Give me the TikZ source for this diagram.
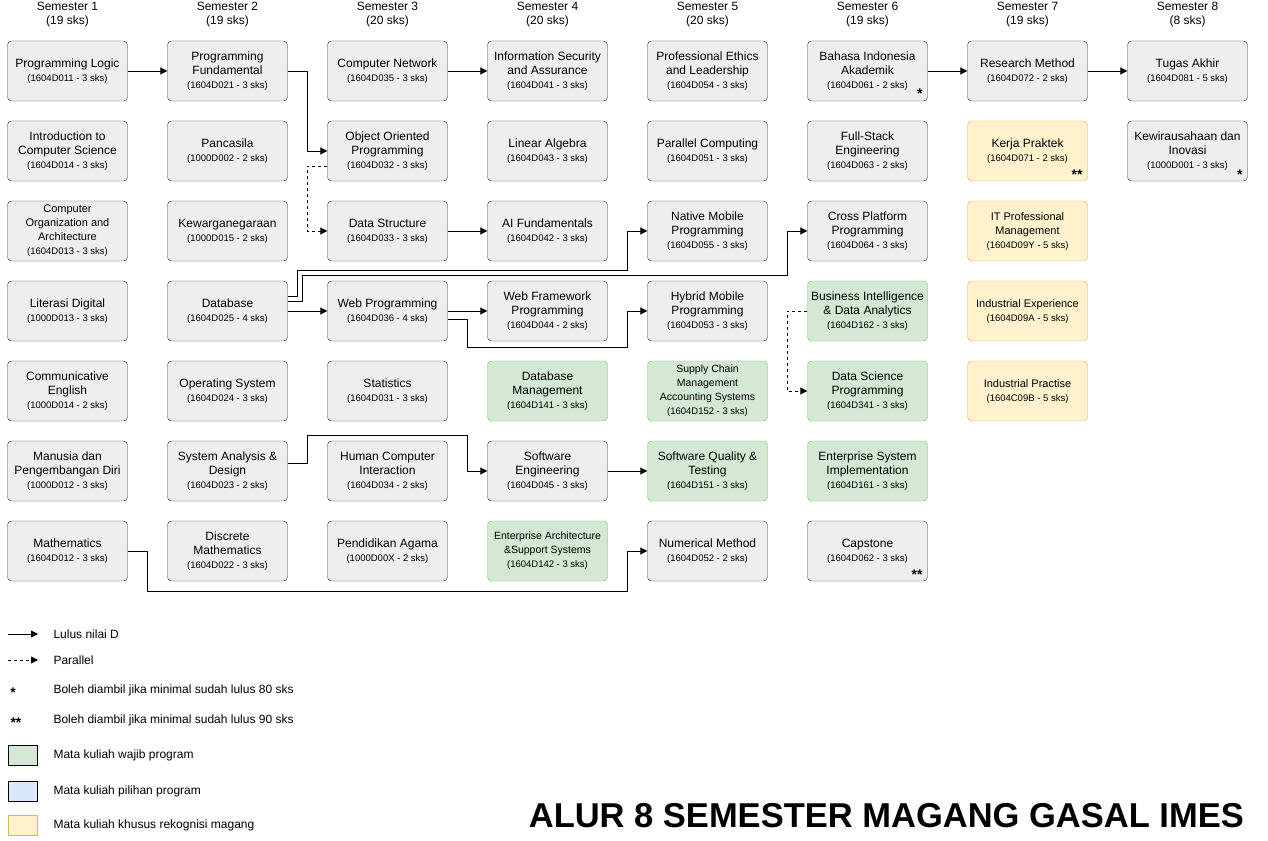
\documentclass[tikz,border=0pt]{standalone}
\usepackage{fontspec}
\setmainfont{Liberation Sans}
\usetikzlibrary{arrows.meta,calc}
\definecolor{gf}{HTML}{EEEEEE}\definecolor{gd}{HTML}{36393D}
\definecolor{grf}{HTML}{D5E8D4}\definecolor{grd}{HTML}{82B366}
\definecolor{yf}{HTML}{FFF2CC}\definecolor{yd}{HTML}{D6B656}
\definecolor{bf}{HTML}{DAE8FC}
\newcommand{\cf}{\fontsize{9.5}{12.5}\selectfont}
\begin{document}
\begin{tikzpicture}[x=1pt,y=-1pt,
 crs/.style={draw=gd,fill=gf,rounded corners=4pt,minimum width=120pt,minimum height=60pt,align=center,font=\fontsize{12}{14}\selectfont,inner sep=1pt},
 grn/.style={crs,draw=grd,fill=grf},
 ylw/.style={crs,draw=yd,fill=yf},
 arr/.style={-{Triangle[length=7pt,width=7pt]},line width=0.9pt},
 dsh/.style={arr,dashed},
 hd/.style={align=center,font=\fontsize{12}{14}\selectfont},
 lg/.style={anchor=west,font=\fontsize{12}{14}\selectfont},
 st/.style={font=\bfseries\fontsize{14}{14}\selectfont,anchor=south east,inner sep=1pt}]
\useasboundingbox (0,0) rectangle (1268,840);
\foreach \i/\s in {1/19,2/19,3/20,4/20,5/20,6/19,7/19,8/8}
 \node[hd] (h\i) at ({67.5+160*(\i-1)},15) {Semester \i\\(\s{} sks)};
\def\X#1{{67.5+160*(#1-1)}}
\def\Y#1{{71+80*(#1-1)}}
% col1
\node[crs] (pl) at (\X1,\Y1) {Programming Logic\\{\cf(1604D011 - 3 sks)}};
\node[crs] (ics) at (\X1,\Y2) {Introduction to\\Computer Science\\{\cf(1604D014 - 3 sks)}};
\node[crs] (coa) at (\X1,\Y3) {{\fontsize{11}{13}\selectfont Computer}\\{\fontsize{11}{13}\selectfont Organization and}\\{\fontsize{11}{13}\selectfont Architecture}\\{\cf(1604D013 - 3 sks)}};
\node[crs] (ld) at (\X1,\Y4) {Literasi Digital\\{\cf(1000D013 - 3 sks)}};
\node[crs] (ce) at (\X1,\Y5) {Communicative\\English\\{\cf(1000D014 - 2 sks)}};
\node[crs] (mpd) at (\X1,\Y6) {Manusia dan\\Pengembangan Diri\\{\cf(1000D012 - 3 sks)}};
\node[crs] (math) at (\X1,\Y7) {Mathematics\\{\cf(1604D012 - 3 sks)}};
% col2
\node[crs] (pf) at (\X2,\Y1) {Programming\\Fundamental\\{\cf(1604D021 - 3 sks)}};
\node[crs] (pan) at (\X2,\Y2) {Pancasila\\{\cf(1000D002 - 2 sks)}};
\node[crs] (kew) at (\X2,\Y3) {Kewarganegaraan\\{\cf(1000D015 - 2 sks)}};
\node[crs] (db) at (\X2,\Y4) {Database\\{\cf(1604D025 - 4 sks)}};
\node[crs] (os) at (\X2,\Y5) {Operating System\\{\cf(1604D024 - 3 sks)}};
\node[crs] (sad) at (\X2,\Y6) {System Analysis \&\\Design\\{\cf(1604D023 - 2 sks)}};
\node[crs] (dm) at (\X2,\Y7) {Discrete\\Mathematics\\{\cf(1604D022 - 3 sks)}};
% col3
\node[crs] (cn) at (\X3,\Y1) {Computer Network\\{\cf(1604D035 - 3 sks)}};
\node[crs] (oop) at (\X3,\Y2) {Object Oriented\\Programming\\{\cf(1604D032 - 3 sks)}};
\node[crs] (ds) at (\X3,\Y3) {Data Structure\\{\cf(1604D033 - 3 sks)}};
\node[crs] (wp) at (\X3,\Y4) {Web Programming\\{\cf(1604D036 - 4 sks)}};
\node[crs] (sta) at (\X3,\Y5) {Statistics\\{\cf(1604D031 - 3 sks)}};
\node[crs] (hci) at (\X3,\Y6) {Human Computer\\Interaction\\{\cf(1604D034 - 2 sks)}};
\node[crs] (pa) at (\X3,\Y7) {Pendidikan Agama\\{\cf(1000D00X - 2 sks)}};
% col4
\node[crs] (isa) at (\X4,\Y1) {Information Security\\and Assurance\\{\cf(1604D041 - 3 sks)}};
\node[crs] (la) at (\X4,\Y2) {Linear Algebra\\{\cf(1604D043 - 3 sks)}};
\node[crs] (ai) at (\X4,\Y3) {AI Fundamentals\\{\cf(1604D042 - 3 sks)}};
\node[crs] (wfp) at (\X4,\Y4) {Web Framework\\Programming\\{\cf(1604D044 - 2 sks)}};
\node[grn] (dbm) at (\X4,\Y5) {Database\\Management\\{\cf(1604D141 - 3 sks)}};
\node[crs] (se) at (\X4,\Y6) {Software\\Engineering\\{\cf(1604D045 - 3 sks)}};
\node[grn] (eas) at (\X4,\Y7) {{\fontsize{10.5}{13}\selectfont Enterprise Architecture}\\{\fontsize{10.5}{13}\selectfont \&Support Systems}\\{\cf(1604D142 - 3 sks)}};
% col5
\node[crs] (pel) at (\X5,\Y1) {Professional Ethics\\and Leadership\\{\cf(1604D054 - 3 sks)}};
\node[crs] (pc) at (\X5,\Y2) {Parallel Computing\\{\cf(1604D051 - 3 sks)}};
\node[crs] (nmp) at (\X5,\Y3) {Native Mobile\\Programming\\{\cf(1604D055 - 3 sks)}};
\node[crs] (hmp) at (\X5,\Y4) {Hybrid Mobile\\Programming\\{\cf(1604D053 - 3 sks)}};
\node[grn] (scm) at (\X5,\Y5) {{\fontsize{10.5}{13}\selectfont Supply Chain}\\{\fontsize{10.5}{13}\selectfont Management}\\{\fontsize{10.5}{13}\selectfont Accounting Systems}\\{\cf(1604D152 - 3 sks)}};
\node[grn] (sqt) at (\X5,\Y6) {Software Quality \&\\Testing\\{\cf(1604D151 - 3 sks)}};
\node[crs] (num) at (\X5,\Y7) {Numerical Method\\{\cf(1604D052 - 2 sks)}};
% col6
\node[crs] (bia) at (\X6,\Y1) {Bahasa Indonesia\\Akademik\\{\cf(1604D061 - 2 sks)}};
\node[crs] (fse) at (\X6,\Y2) {Full-Stack\\Engineering\\{\cf(1604D063 - 2 sks)}};
\node[crs] (cpp) at (\X6,\Y3) {Cross Platform\\Programming\\{\cf(1604D064 - 3 sks)}};
\node[grn] (bi) at (\X6,\Y4) {Business Intelligence\\\& Data Analytics\\{\cf(1604D162 - 3 sks)}};
\node[grn] (dsp) at (\X6,\Y5) {Data Science\\Programming\\{\cf(1604D341 - 3 sks)}};
\node[grn] (esi) at (\X6,\Y6) {Enterprise System\\Implementation\\{\cf(1604D161 - 3 sks)}};
\node[crs] (cap) at (\X6,\Y7) {Capstone\\{\cf(1604D062 - 3 sks)}};
% col7
\node[crs] (rm) at (\X7,\Y1) {Research Method\\{\cf(1604D072 - 2 sks)}};
\node[ylw] (kp) at (\X7,\Y2) {Kerja Praktek\\{\cf(1604D071 - 2 sks)}};
\node[ylw] (itp) at (\X7,\Y3) {{\fontsize{11}{13}\selectfont IT Professional}\\{\fontsize{11}{13}\selectfont Management}\\{\cf(1604D09Y - 5 sks)}};
\node[ylw] (ie) at (\X7,\Y4) {{\fontsize{11}{13}\selectfont Industrial Experience}\\{\cf(1604D09A - 5 sks)}};
\node[ylw] (ip) at (\X7,\Y5) {{\fontsize{11}{13}\selectfont Industrial Practise}\\{\cf(1604C09B - 5 sks)}};
% col8
\node[crs] (ta) at (\X8,\Y1) {Tugas Akhir\\{\cf(1604D081 - 5 sks)}};
\node[crs] (kwi) at (\X8,\Y2) {Kewirausahaan dan\\Inovasi\\{\cf(1000D001 - 3 sks)}};
% stars
\node[st] at ([xshift=-4pt,yshift=1pt]bia.south east) {*};
\node[st] at ([xshift=-4pt,yshift=1pt]kwi.south east) {*};
\node[st] at ([xshift=-4pt,yshift=1pt]kp.south east) {**};
\node[st] at ([xshift=-4pt,yshift=1pt]cap.south east) {**};
% connectors
\draw[arr] (pl) -- (pf);
\draw[arr] (cn) -- (isa);
\draw[arr] (ds) -- (ai);
\draw[arr] (db) -- (wp);
\draw[arr] (wp) -- (wfp);
\draw[arr] (se) -- (sqt);
\draw[arr] (bia) -- (rm);
\draw[arr] (rm) -- (ta);
\draw[arr] (pf.east) -- ++(20,0) |- (oop.west);
\draw[dsh] ([yshift=-15pt]oop.west) -- ++(-20,0) |- (ds.west);
\draw[arr] ([yshift=15pt]db.east) -- ++(10,0) -- ++(0,-26) -| ([xshift=-20pt]nmp.west) -- (nmp.west);
\draw[arr] ([yshift=10pt]db.east) -- ++(15,0) -- ++(0,-26) -| ([xshift=-20pt]cpp.west) -- (cpp.west);
\draw[arr] ([yshift=-8pt]wp.east) -- ++(20,0) -- ++(0,28) -| ([xshift=-20pt]hmp.west) -- (hmp.west);
\draw[dsh] (bi.west) -- ++(-20,0) |- (dsp.west);
\draw[arr] ([yshift=8pt]sad.east) -- ++(20,0) -- ++(0,-28) -| ([xshift=-20pt]se.west) -- (se.west);
\draw[arr] (math.east) -- ++(20,0) -- ++(0,40) -| ([xshift=-20pt]num.west) -- (num.west);
% legend
\coordinate (l1a) at (8,634); \coordinate (l1b) at (38,634);
\coordinate (l2a) at (8,660); \coordinate (l2b) at (38,660);
\draw[arr] (l1a) -- (l1b);
\draw[dsh] (l2a) -- (l2b);
\node[lg] at (50,634) {Lulus nilai D};
\node[lg] at (50,660) {Parallel};
\node[font=\bfseries\fontsize{14}{14}\selectfont] at (13,693) {*};
\node[font=\bfseries\fontsize{14}{14}\selectfont] at (16,723) {**};
\node[lg] at (50,690) {Boleh diambil jika minimal sudah lulus 80 sks};
\node[lg] at (50,720) {Boleh diambil jika minimal sudah lulus 90 sks};
\draw[fill=grf] (8,745) rectangle (37,765);
\draw[fill=bf] (8,781) rectangle (37,801);
\draw[draw=yd,fill=yf] (8,815) rectangle (37,835);
\node[lg] at (50,755) {Mata kuliah wajib program};
\node[lg] at (50,791) {Mata kuliah pilihan program};
\node[lg] at (50,825) {Mata kuliah khusus rekognisi magang};
\node[anchor=east,font=\bfseries\fontsize{34.5}{38}\selectfont,inner sep=0] at (1244,816) {ALUR 8 SEMESTER MAGANG GASAL IMES};
\end{tikzpicture}
\end{document}
